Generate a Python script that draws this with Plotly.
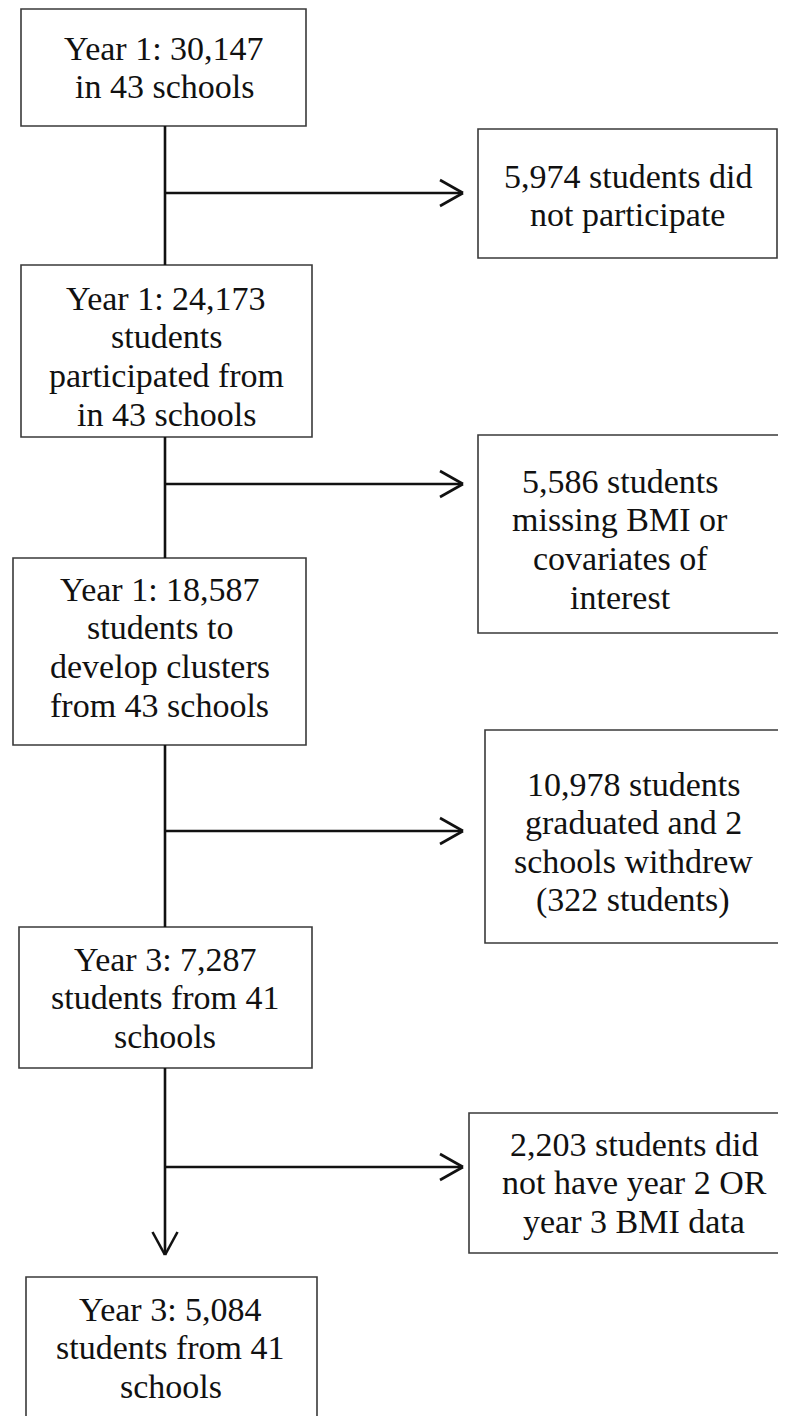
import plotly.graph_objects as go

# ---- content (text of each box) ----
main_labels = [
    ["Year 1: 30,147", "in 43 schools"],
    ["Year 1: 24,173", "students", "participated from", "in 43 schools"],
    ["Year 1: 18,587", "students to", "develop clusters", "from 43 schools"],
    ["Year 3: 7,287", "students from 41", "schools"],
    ["Year 3: 5,084", "students from 41", "schools"],
]
side_labels = [
    ["5,974 students did", "not participate"],
    ["5,586 students", "missing BMI or", "covariates of", "interest"],
    ["10,978 students", "graduated and 2", "schools withdrew", "(322 students)"],
    ["2,203 students did", "not have year 2 OR", "year 3 BMI data"],
]

# ---- layout (pixel geometry, y downward) ----
main_boxes = [(21, 306, 9, 126), (21, 312, 265, 437), (13, 306, 558, 745),
              (19, 312, 927, 1068), (26, 317, 1277, 1440)]
main_text_x = [164, 166, 159.5, 165, 170.5]
main_first_base = [59, 309, 600, 970, 1320]

side_boxes = [(478, 777, 129, 258), (478, 810, 435, 633),
              (485, 782, 730, 943), (469, 810, 1113, 1253)]
side_text_x = [627.5, 620, 633, 634]
side_first_base = [187, 492, 795, 1155]

branch_y = [193, 484, 831, 1167]
spine_x = 165
arrow_tip_x = 463
down_tip_y = 1255
LINE_H = 38.7
FONT_SIZE = 34
W, H = 786, 1416
PAGE_OFF = 8  # default body margin of the html page

fig = go.Figure()
shapes = []
annotations = []
BOX_LINE = dict(color="#3a3a3a", width=1.6)
CONN = dict(color="#111111", width=2.6)

def add_box(b, lines, cx, base):
    x0, x1, y0, y1 = b
    shapes.append(dict(type="rect", xref="x", yref="y", x0=x0, x1=x1, y0=y0, y1=y1,
                       line=BOX_LINE, fillcolor="white", layer="below"))
    for i, t in enumerate(lines):
        yb = base + i * LINE_H
        annotations.append(dict(x=cx, y=yb - 11, xref="x", yref="y", text=t,
                                showarrow=False, xanchor="center", yanchor="middle",
                                font=dict(family="Liberation Serif, Times New Roman, serif",
                                          size=FONT_SIZE, color="#111111")))

for b, lab, cx, base in zip(main_boxes, main_labels, main_text_x, main_first_base):
    add_box(b, lab, cx, base)
for b, lab, cx, base in zip(side_boxes, side_labels, side_text_x, side_first_base):
    add_box(b, lab, cx, base)

def seg(x0, y0, x1, y1):
    shapes.append(dict(type="line", xref="x", yref="y", x0=x0, y0=y0, x1=x1, y1=y1,
                       line=CONN))

# vertical spine segments between main boxes
for i in range(len(main_boxes) - 1):
    top = main_boxes[i][3]
    bot = main_boxes[i + 1][2] if i < len(main_boxes) - 2 else down_tip_y
    seg(spine_x, top, spine_x, bot)

# branches with open arrowheads
for y in branch_y:
    seg(spine_x, y, arrow_tip_x, y)
    seg(arrow_tip_x - 23, y - 13, arrow_tip_x, y)
    seg(arrow_tip_x - 23, y + 13, arrow_tip_x, y)

# down arrowhead
seg(spine_x - 12.5, down_tip_y - 23, spine_x, down_tip_y)
seg(spine_x + 12.5, down_tip_y - 23, spine_x, down_tip_y)

fig.update_layout(
    width=W - PAGE_OFF, height=H - PAGE_OFF,
    margin=dict(l=0, r=0, t=0, b=0),
    paper_bgcolor="white", plot_bgcolor="white",
    xaxis=dict(range=[PAGE_OFF, W], visible=False, fixedrange=True),
    yaxis=dict(range=[H, PAGE_OFF], visible=False, fixedrange=True),
    shapes=shapes, annotations=annotations, showlegend=False,
)
fig.write_html("out.html")
